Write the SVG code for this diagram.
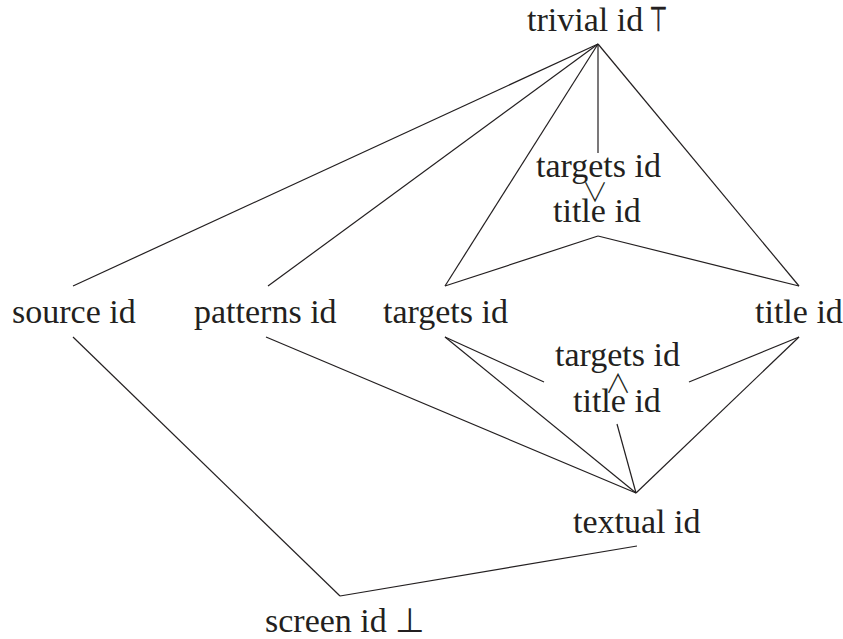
<svg xmlns="http://www.w3.org/2000/svg" width="843" height="639" viewBox="0 0 843 639">
<style>
text{font-family:"Liberation Serif","Times New Roman",serif;font-size:34px;fill:#231f20}
.sym{font-family:"Noto Sans CJK JP","DejaVu Sans",sans-serif;font-size:26px;text-anchor:middle;font-weight:300}
.top{font-family:"DejaVu Sans",sans-serif;font-size:34px;stroke:#231f20;stroke-width:0.8}
line{stroke:#231f20;stroke-width:1.2}
</style>
<rect width="843" height="639" fill="#fff"/>
<g id="connectors">
<line x1="598" y1="44" x2="73" y2="286"/>
<line x1="598" y1="44" x2="268" y2="286"/>
<line x1="598" y1="44" x2="445" y2="286"/>
<line x1="598" y1="44" x2="598" y2="153"/>
<line x1="598" y1="44" x2="799" y2="286"/>
<line x1="598" y1="236" x2="445" y2="286"/>
<line x1="598" y1="236" x2="799" y2="286"/>
<line x1="445" y1="337" x2="544" y2="382"/>
<line x1="799" y1="337" x2="689" y2="382"/>
<line x1="445" y1="337" x2="636" y2="493"/>
<line x1="799" y1="337" x2="636" y2="493"/>
<line x1="617" y1="424" x2="636" y2="493"/>
<line x1="266" y1="337" x2="636" y2="493"/>
<line x1="73" y1="337" x2="340" y2="596"/>
<line x1="340" y1="596" x2="637" y2="546"/>
</g>
<g id="trivial"><text x="527" y="31">trivial id</text><text class="top" transform="translate(658.5,31) scale(0.6,1)" text-anchor="middle">⊤</text></g>
<g id="meet"><text x="536" y="177">targets id</text><text class="sym" x="595" y="202">∨</text><text x="553" y="222">title id</text></g>
<g id="source"><text x="12" y="323">source id</text></g>
<g id="patterns"><text x="194" y="323">patterns id</text></g>
<g id="targets"><text x="383" y="323">targets id</text></g>
<g id="title"><text x="755" y="323">title id</text></g>
<g id="join"><text x="555" y="366">targets id</text><text class="sym" x="618" y="393">∧</text><text x="573" y="412">title id</text></g>
<g id="textual"><text x="573" y="533">textual id</text></g>
<g id="screen"><text x="265" y="632">screen id ⊥</text></g>
</svg>
